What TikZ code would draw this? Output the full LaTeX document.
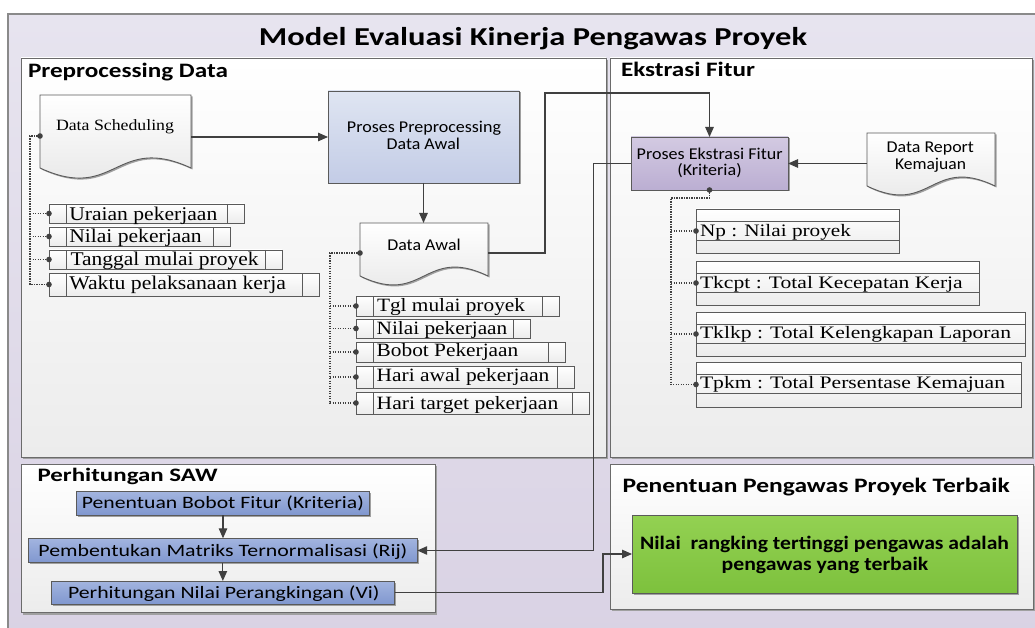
\documentclass[tikz,border=0pt]{standalone}
\usepackage{fontspec}
\usepackage{graphicx}
\setmainfont{Liberation Serif}
\newfontfamily\sansf{Carlito}
\usetikzlibrary{arrows.meta,shadows,calc}
\definecolor{lavT}{HTML}{E7E4EF}
\definecolor{lavB}{HTML}{D9D2E4}
\definecolor{frameC}{HTML}{8A8A8A}
\definecolor{panB}{HTML}{6B6B6B}
\definecolor{panBot}{HTML}{ECECEC}
\definecolor{shd}{HTML}{A0A0A0}
\definecolor{boxB}{HTML}{5A5A5A}
\definecolor{preT}{HTML}{DFE5F2}
\definecolor{preB}{HTML}{C3CCE6}
\definecolor{efT}{HTML}{D3CAE2}
\definecolor{efB}{HTML}{BBAED2}
\definecolor{sawT}{HTML}{A2B4DF}
\definecolor{sawB}{HTML}{8097CF}
\definecolor{grT}{HTML}{93D152}
\definecolor{grB}{HTML}{7DC13D}
\definecolor{docB}{HTML}{E4E4E4}
\definecolor{lnC}{HTML}{404040}
\newcommand\fitw[2]{\resizebox{#1pt}{\height}{#2}}
\newcommand\hdfont[1]{\sansf\bfseries\fontsize{#1pt}{#1pt}\selectfont}
\newcommand\snfont[1]{\sansf\fontsize{#1pt}{#1pt}\selectfont}
\newcommand\srfont[1]{\rmfamily\fontsize{#1pt}{#1pt}\selectfont}
\begin{document}
\begin{tikzpicture}[x=1pt,y=-1pt,
  txt/.style={inner sep=0pt,outer sep=0pt,text=black},
  panel/.style={draw=panB,line width=0.9pt,top color=white,bottom color=panBot,
    inner sep=0pt,outer sep=0pt,anchor=north west,
    general shadow={fill=shd,shadow xshift=2pt,shadow yshift=-2pt}},
  procbox/.style={draw=boxB,line width=0.9pt,inner sep=0pt,outer sep=0pt,anchor=north west,
    general shadow={fill=shd,shadow xshift=1.5pt,shadow yshift=-1.5pt}},
  docnode/.style={inner sep=0pt,outer sep=0pt,anchor=north west},
  docline/.style={draw=boxB,line width=0.9pt,top color=white,bottom color=docB,
    general shadow={fill=shd,shadow xshift=1.5pt,shadow yshift=-1.5pt}},
  rowbox/.style={draw=boxB,line width=0.7pt,top color=white,bottom color=panBot,
    inner sep=0pt,outer sep=0pt,anchor=north west,
    general shadow={fill=shd,shadow xshift=1.2pt,shadow yshift=-1.2pt},
    path picture={\draw[boxB,line width=0.7pt]
      ([xshift=17pt]path picture bounding box.north west) -- ([xshift=17pt]path picture bounding box.south west)
      ([xshift=-16.5pt]path picture bounding box.north east) -- ([xshift=-16.5pt]path picture bounding box.south east);}},
  bandbox/.style={draw=boxB,line width=0.7pt,top color=white,bottom color=panBot,
    inner sep=0pt,outer sep=0pt,anchor=north west,
    general shadow={fill=shd,shadow xshift=1.2pt,shadow yshift=-1.2pt},
    path picture={\draw[boxB,line width=0.7pt]
      ([yshift=-12.5pt]path picture bounding box.north west) -- ([yshift=-12.5pt]path picture bounding box.north east)
      ([yshift=-31.5pt]path picture bounding box.north west) -- ([yshift=-31.5pt]path picture bounding box.north east);}},
  arr/.style={draw=lnC,line width=1.2pt,-{Triangle[length=10pt,width=8.5pt]}},
  dotl/.style={draw=lnC,line width=1.1pt,dash pattern=on 1.2pt off 1.3pt}
]
\useasboundingbox (0,0) rectangle (1035,628);
\clip (0,0) rectangle (1035,628);
\fill[white] (0,0) rectangle (1035,628);
% outer frame
\path[draw=frameC,line width=1.5pt,top color=lavT,bottom color=lavB] (8,14) rectangle (1050,645);
\node[txt,anchor=base] (title) at (533,45.7) {\fitw{548}{\hdfont{25.8}Model Evaluasi Kinerja Pengawas Proyek}};

% panels
\node[panel,minimum width=585pt,minimum height=399pt] (pPre) at (21,58) {};
\node[panel,minimum width=422pt,minimum height=399pt] (pEks) at (610,58) {};
\node[panel,minimum width=414pt,minimum height=148.7pt] (pSaw) at (21,464) {};
\node[panel,minimum width=423pt,minimum height=145pt] (pBest) at (610,464) {};
\node[txt,anchor=base west] (hPre) at (28,77.3) {\fitw{200}{\hdfont{20.5}Preprocessing Data}};
\node[txt,anchor=base west] (hEks) at (621,76.7) {\fitw{134}{\hdfont{20.5}Ekstrasi Fitur}};
\node[txt,anchor=base west] (hSaw) at (37.6,481.7) {\fitw{180}{\hdfont{19}Perhitungan SAW}};
\node[txt,anchor=base west] (hBest) at (622.7,492.7) {\fitw{387}{\hdfont{20.5}Penentuan Pengawas Proyek Terbaik}};

% process boxes
\node[procbox,top color=preT,bottom color=preB,minimum width=191pt,minimum height=92pt] (pre) at (328,91) {};
\node[procbox,top color=efT,bottom color=efB,minimum width=157pt,minimum height=53pt] (ef) at (631,137) {};
\node[procbox,top color=sawT,bottom color=sawB,minimum width=293.4pt,minimum height=23.3pt] (saw1) at (76.3,491.7) {};
\node[procbox,top color=sawT,bottom color=sawB,minimum width=388.7pt,minimum height=24.4pt] (saw2) at (28.5,538.3) {};
\node[procbox,top color=sawT,bottom color=sawB,minimum width=343.2pt,minimum height=23.3pt] (saw3) at (51.4,581) {};
\node[procbox,top color=grT,bottom color=grB,minimum width=385pt,minimum height=78pt] (green) at (632,515) {};

% documents
\node[docnode,minimum width=151pt,minimum height=73pt] (ds) at (40,95) {};
\node[docnode,minimum width=128pt,minimum height=53pt] (da) at (360,223) {};
\node[docnode,minimum width=128pt,minimum height=53pt] (dr) at (867,133) {};
\draw[docline] (ds.north west) -- (ds.north east) -- (ds.south east)
  .. controls ($(ds.south)+(0,-35)$) and ($(ds.south)+(0,35)$) .. (ds.south west) -- cycle;
\draw[docline] (da.north west) -- (da.north east) -- (da.south east)
  .. controls ($(da.south)+(0,-31)$) and ($(da.south)+(0,31)$) .. (da.south west) -- cycle;
\draw[docline] (dr.north west) -- (dr.north east) -- (dr.south east)
  .. controls ($(dr.south)+(0,-31)$) and ($(dr.south)+(0,31)$) .. (dr.south west) -- cycle;

% field rows (Data Scheduling)
\node[rowbox,minimum width=195pt,minimum height=19pt] (r1) at (49,204) {};
\node[rowbox,minimum width=181pt,minimum height=19pt] (r2) at (49,227) {};
\node[rowbox,minimum width=233pt,minimum height=19pt] (r3) at (49,250) {};
\node[rowbox,minimum width=270pt,minimum height=23pt] (r4) at (49,273) {};
% field rows (Data Awal)
\node[rowbox,minimum width=203pt,minimum height=20pt] (a1) at (356,296) {};
\node[rowbox,minimum width=174pt,minimum height=19pt] (a2) at (356,319) {};
\node[rowbox,minimum width=209pt,minimum height=20pt] (a3) at (356,342) {};
\node[rowbox,minimum width=218pt,minimum height=22pt] (a4) at (356,366) {};
\node[rowbox,minimum width=233pt,minimum height=22pt] (a5) at (356,392) {};
% feature rows
\node[bandbox,minimum width=203pt,minimum height=44pt] (e1) at (696,209) {};
\node[bandbox,minimum width=283pt,minimum height=44pt] (e2) at (696,261) {};
\node[bandbox,minimum width=329pt,minimum height=44pt] (e3) at (696,312) {};
\node[bandbox,minimum width=325pt,minimum height=45pt] (e4) at (696,362) {};

% texts
\node[txt,anchor=base] (tPre1) at (424,132.7) {\fitw{154}{\snfont{16.5}Proses Preprocessing}};
\node[txt,anchor=base] (tPre2) at (423.3,150) {\fitw{73.3}{\snfont{16.5}Data Awal}};
\node[txt,anchor=base] (tEf1) at (709.7,160) {\fitw{146}{\snfont{16.5}Proses Ekstrasi Fitur}};
\node[txt,anchor=base] (tEf2) at (709.5,176) {\fitw{64.4}{\snfont{16.5}(Kriteria)}};
\node[txt,anchor=base] (tDa) at (424,251) {\fitw{73.3}{\snfont{16.5}Data Awal}};
\node[txt,anchor=base] (tDr1) at (930.3,152.7) {\fitw{87.3}{\snfont{16.5}Data Report}};
\node[txt,anchor=base] (tDr2) at (930.5,169.3) {\fitw{71}{\snfont{16.5}Kemajuan}};
\node[txt,anchor=base west] (tDs) at (56,131) {\fitw{118}{\srfont{15.7}Data Scheduling}};
\node[txt,anchor=base] (tS1) at (222.9,508.3) {\fitw{282}{\snfont{17.4}Penentuan Bobot Fitur (Kriteria)}};
\node[txt,anchor=base] (tS2) at (222.9,556) {\fitw{369}{\snfont{17.4}Pembentukan Matriks Ternormalisasi (Rij)}};
\node[txt,anchor=base] (tS3) at (223.8,598.3) {\fitw{311.6}{\snfont{17.4}Perhitungan Nilai Perangkingan (Vi)}};
\node[txt,anchor=base] (tG1) at (824.5,549.3) {\fitw{369}{\hdfont{19}Nilai~ rangking tertinggi pengawas adalah}};
\node[txt,anchor=base] (tG2) at (825,570) {\fitw{206.6}{\hdfont{19}pengawas yang terbaik}};

\node[txt,anchor=base west] (tr1) at (69.3,220) {\fitw{148}{\srfont{19.4}Uraian pekerjaan}};
\node[txt,anchor=base west] (tr2) at (69.3,242.7) {\fitw{132.4}{\srfont{19.4}Nilai pekerjaan}};
\node[txt,anchor=base west] (tr3) at (70.5,265) {\fitw{188}{\srfont{19.4}Tanggal mulai proyek}};
\node[txt,anchor=base west] (tr4) at (69.3,289.3) {\fitw{216.7}{\srfont{19.4}Waktu pelaksanaan kerja}};

\node[txt,anchor=base west] (ta1) at (377,311.7) {\fitw{148}{\srfont{18.8}Tgl mulai proyek}};
\node[txt,anchor=base west] (ta2) at (376.7,334) {\fitw{130.6}{\srfont{18.8}Nilai pekerjaan}};
\node[txt,anchor=base west] (ta3) at (376.7,356.7) {\fitw{141.6}{\srfont{18.8}Bobot Pekerjaan}};
\node[txt,anchor=base west] (ta4) at (376.7,381.7) {\fitw{172.6}{\srfont{18.8}Hari awal pekerjaan}};
\node[txt,anchor=base west] (ta5) at (376.7,409.3) {\fitw{181.6}{\srfont{18.8}Hari target pekerjaan}};

\node[txt,anchor=base west] (te1) at (700,236.7) {\fitw{151}{\srfont{17.5}Np : Nilai proyek}};
\node[txt,anchor=base west] (te2) at (700,288.3) {\fitw{262.7}{\srfont{17.5}Tkcpt : Total Kecepatan Kerja}};
\node[txt,anchor=base west] (te3) at (700,338.3) {\fitw{311}{\srfont{17.5}Tklkp : Total Kelengkapan Laporan}};
\node[txt,anchor=base west] (te4) at (700,388.3) {\fitw{305}{\srfont{17.5}Tpkm : Total Persentase Kemajuan}};

% solid connectors
\coordinate (dar) at (488,253);
\draw[arr] (ds.east |- pre.west) -- (pre.west);
\draw[arr] (pre.south) -- (pre.south |- da.north);
\draw[arr] (dar) -| (545,93) -| (ef.north);
\draw[arr] (dr.west |- ef.east) -- (ef.east);
\draw[arr] (ef.west) -- (593.7,163.5) |- (saw2.east);
\draw[arr] (saw3.east) -| (603,554) -- (green.west);
\draw[arr] (saw1.south) -- (saw1.south |- saw2.north);
\draw[arr] (saw2.south) -- (saw2.south |- saw3.north);

% dotted connectors
\coordinate (dsc) at (40,136);
\coordinate (dsv) at (30,136);
\draw[dotl] (dsc) -- (dsv) -- (dsv |- r4.west) -- (r4.west);
\foreach \r in {r1,r2,r3} {\draw[dotl] (dsv |- \r.west) -- (\r.west);}
\coordinate (dac) at (360,253);
\coordinate (dav) at (330,253);
\draw[dotl] (dac) -- (dav) -- (dav |- a5.west) -- (a5.west);
\foreach \r in {a1,a2,a3,a4} {\draw[dotl] (dav |- \r.west) -- (\r.west);}
\coordinate (efv) at (671,198);
\draw[dotl] (ef.south) |- (efv) -- (efv |- e4.west) -- (e4.west);
\foreach \r in {e1,e2,e3} {\draw[dotl] (efv |- \r.west) -- (\r.west);}
\foreach \p in {dsc,dac,ef.south,r1.west,r2.west,r3.west,r4.west,a1.west,a2.west,a3.west,a4.west,a5.west,e1.west,e2.west,e3.west,e4.west}
  {\fill[lnC] (\p) circle (2.8pt);}
\end{tikzpicture}
\end{document}
